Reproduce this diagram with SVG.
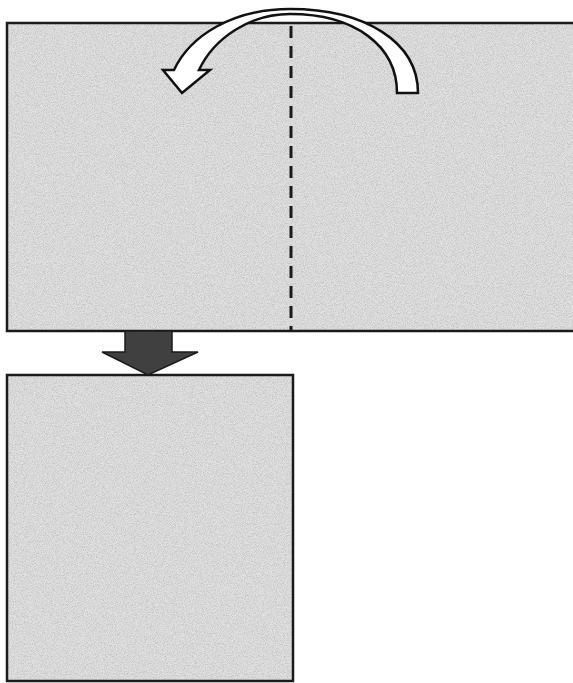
<svg xmlns="http://www.w3.org/2000/svg" width="573" height="683" viewBox="0 0 573 683">
<defs>
<filter id="grain" x="0" y="0" width="100%" height="100%">
<feTurbulence type="fractalNoise" baseFrequency="1.1" numOctaves="2" seed="3" result="n"/>
<feColorMatrix in="n" type="matrix" values="0 0 0 0 0.45  0 0 0 0 0.45  0 0 0 0 0.45  0 0 0 -2.2 1.4" result="g"/>
<feComposite in="g" in2="SourceGraphic" operator="in"/>
</filter>
</defs>
<style>
.paper{fill:#e2e2e2;stroke:none}
.edge{fill:none;stroke:#1a1a1a;stroke-width:2.5}
.fold{fill:none;stroke:#1a1a1a;stroke-width:3;stroke-dasharray:12 8}
.turn{fill:#ffffff;stroke:#111;stroke-width:2.5;stroke-linejoin:miter}
.down{fill:#404040;stroke:#1a1a1a;stroke-width:1.5}
</style>
<rect width="573" height="683" fill="#ffffff"/>
<g id="sheet-top">
<rect class="paper" x="7" y="23" width="570" height="308"/>
<rect x="7" y="23" width="570" height="308" fill="#fff" filter="url(#grain)" opacity="0.7"/>
<path class="edge" d="M575,23 H7 V331 H575"/>
<line class="fold" x1="291" y1="26" x2="291" y2="330"/>
</g>
<g id="sheet-bottom">
<rect class="paper" x="7" y="375" width="286" height="306"/>
<rect x="7" y="375" width="286" height="306" fill="#fff" filter="url(#grain)" opacity="0.7"/>
<rect class="edge" x="7" y="375" width="286" height="306"/>
</g>
<g id="connectors">
<path class="turn" d="M418,93 C418,42 365,9 290,9 C232,9 190,36 174,70 L163,70 L182,93 L210,70 L199,70 C214,38 250,14 290,14 C355,14 397,46 397,93 Z"/>
<path class="down" d="M125,331 H172 V352 H198 L148,375 L102,352 H125 Z"/>
</g>
</svg>
